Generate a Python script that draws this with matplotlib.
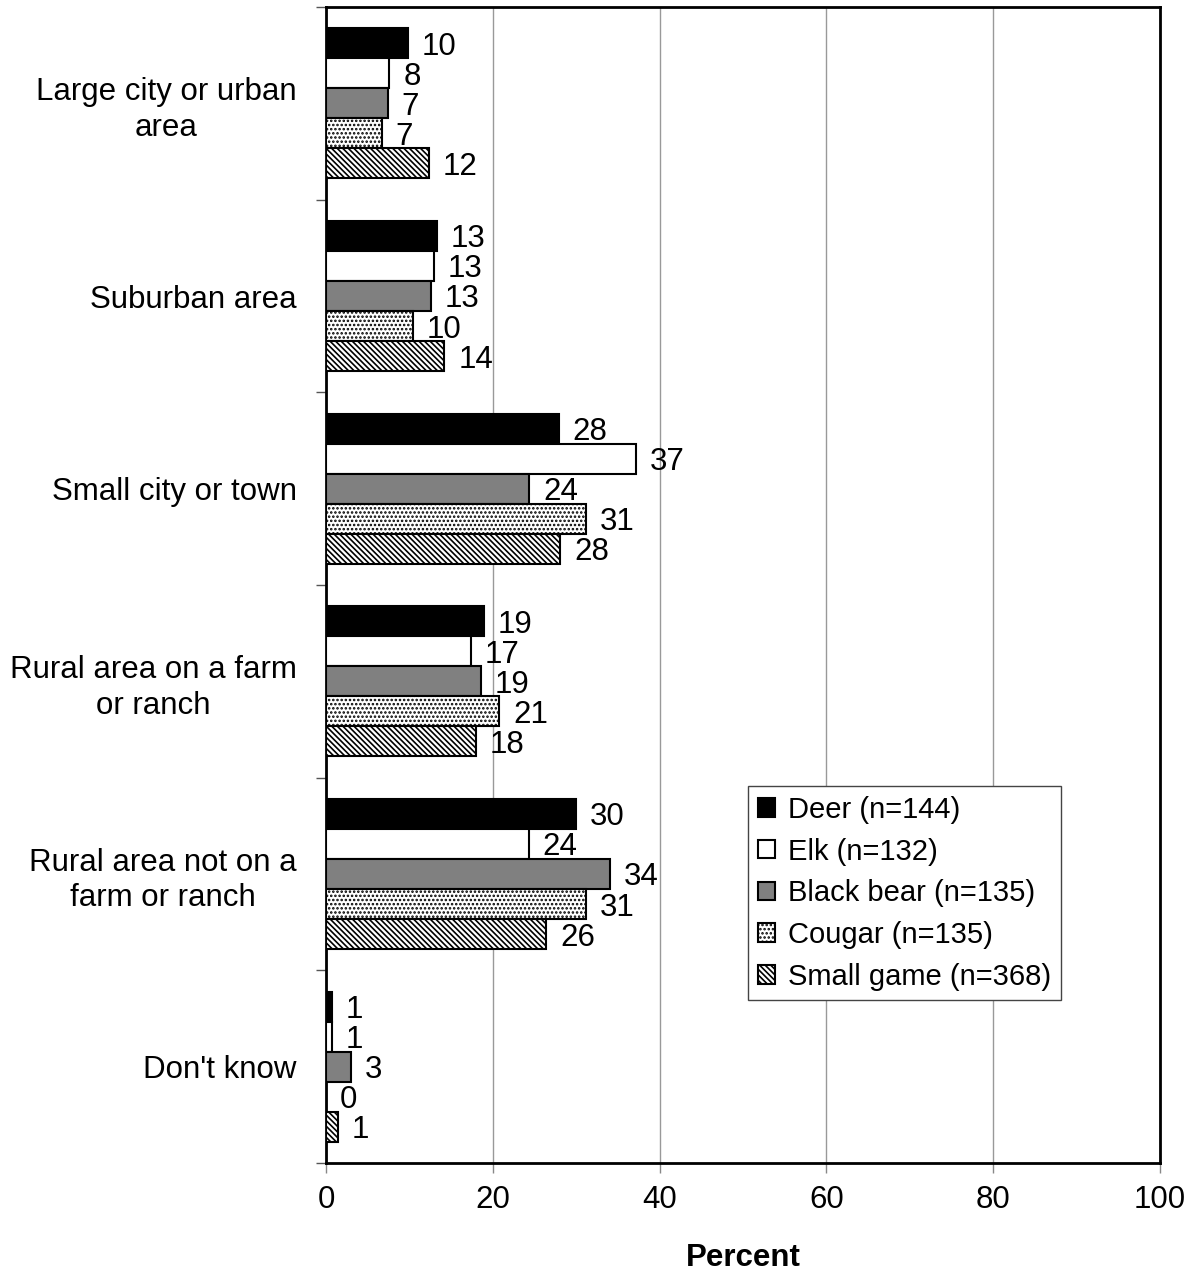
import matplotlib
matplotlib.use("Agg")
import matplotlib.pyplot as plt
import numpy as np

plt.rcParams['font.family'] = ['Liberation Sans', 'DejaVu Sans']
plt.rcParams['hatch.linewidth'] = 1.2
plt.rcParams['hatch.color'] = 'black'

categories = [
    "Large city or urban\narea",
    "Suburban area",
    "Small city or town",
    "Rural area on a farm\nor ranch",
    "Rural area not on a\nfarm or ranch",
    "Don't know",
]
series_names = [
    "Deer (n=144)",
    "Elk (n=132)",
    "Black bear (n=135)",
    "Cougar (n=135)",
    "Small game (n=368)",
]
deer = [9.8, 13.3, 27.9, 18.9, 30.0, 0.7]
elk = [7.6, 12.9, 37.2, 17.4, 24.3, 0.7]
black_bear = [7.4, 12.6, 24.4, 18.6, 34.1, 3.0]
cougar = [6.7, 10.4, 31.2, 20.8, 31.2, 0.0]
small_game = [12.3, 14.2, 28.1, 18.0, 26.4, 1.4]
series_values = [deer, elk, black_bear, cougar, small_game]
x_ticks = [0, 20, 40, 60, 80, 100]

styles = [
    dict(facecolor='black', hatch=None),
    dict(facecolor='white', hatch=None),
    dict(facecolor='#808080', hatch=None),
    dict(facecolor='white', hatch='....'),
    dict(facecolor='white', hatch='\\\\\\\\\\\\'),
]

FS = 22.5

fig = plt.figure(figsize=(11.94, 12.74), dpi=100)
ax = fig.add_axes([0.273, 0.0871, 0.6985, 0.9074])

n_groups = len(categories)
n_series = len(series_values)
bar_h = 0.156
centers = np.arange(n_groups)

for i, (vals, name, st) in enumerate(zip(series_values, series_names, styles)):
    ypos = centers + (i - (n_series - 1) / 2) * bar_h
    ax.barh(ypos, vals, height=bar_h, color=st['facecolor'],
            edgecolor='black', linewidth=1.5, hatch=st['hatch'],
            label=name, zorder=3)
    for y, v in zip(ypos, vals):
        ax.annotate(f"{v:.0f}", xy=(v, y), xytext=(10, -2.5),
                    textcoords='offset points', ha='left', va='center',
                    fontsize=FS, zorder=4)

ax.set_xlim(0, 100)
ax.set_ylim(n_groups - 0.5, -0.5)

ax.set_xticks(x_ticks)
ax.set_xticklabels([str(t) for t in x_ticks], fontsize=FS)
ax.tick_params(axis='x', direction='out', length=7, width=1,
               color='#888888', pad=9)

# Group separators as major ticks, category names as minor tick labels
ax.set_yticks(np.arange(-0.5, n_groups, 1.0))
ax.set_yticklabels([])
ax.set_yticks(centers, minor=True)
ax.set_yticklabels(categories, minor=True, fontsize=FS,
                   multialignment='center', linespacing=1.25)
ax.tick_params(axis='y', which='major', direction='out', length=7,
               width=1, color='#555555')
ax.tick_params(axis='y', which='minor', length=0, pad=21)

ax.grid(axis='x', color='#999999', linewidth=1, zorder=0)
ax.set_axisbelow(True)
for sp in ax.spines.values():
    sp.set_linewidth(2)
    sp.set_color('black')

ax.set_xlabel("Percent", fontsize=FS, fontweight='bold', labelpad=20)

leg = ax.legend(loc='upper left', bbox_to_anchor=(0.506, 0.326),
                fontsize=21, handlelength=0.6, handleheight=0.6,
                handletextpad=0.45, labelspacing=0.47, borderpad=0.33,
                fancybox=False, framealpha=1, edgecolor='#444444',
                borderaxespad=0)
leg.get_frame().set_linewidth(1)

fig.savefig("out.png", dpi=100)
